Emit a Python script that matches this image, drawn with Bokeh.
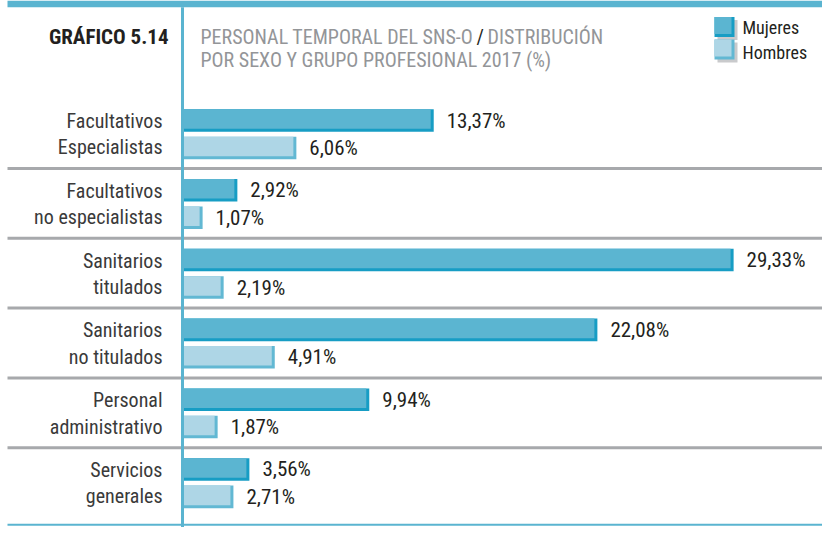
from bokeh.plotting import figure
from bokeh.models import Range1d, ColumnDataSource
from bokeh.core.properties import value
from bokeh.embed import file_html
from bokeh.resources import INLINE

categories = ["Facultativos\nEspecialistas", "Facultativos\nno especialistas",
              "Sanitarios\ntitulados", "Sanitarios\nno titulados",
              "Personal\nadministrativo", "Servicios\ngenerales"]
mujeres = [13.37, 2.92, 29.33, 22.08, 9.94, 3.56]
hombres = [6.06, 1.07, 2.19, 4.91, 1.87, 2.71]
series = ["Mujeres", "Hombres"]
chart_label = "GRÁFICO 5.14"
title_1 = ["PERSONAL TEMPORAL DEL SNS-O", "/", "DISTRIBUCIÓN"]
title_2 = "POR SEXO Y GRUPO PROFESIONAL 2017 (%)"

FONT = value("Roboto Condensed")
W, H = 822, 527
PX = 18.79   # pixels per percent
X0 = 182     # canvas x of 0 %
S = 0.98     # vertical compression

def cx(px):
    return (px - X0) / PX

def cy(py):
    return (py - 5) * S

CYAN = "#5ab4d0"
M_FILL, M_EDGE = "#5bb5d1", "#179dc4"
H_FILL, H_EDGE = "#aed6e6", "#62b8d3"
GRAY = "#a7a9ac"
DARK = "#231f20"
TGRAY = "#939598"

p = figure(width=W, height=H, x_range=Range1d(cx(0), cx(W)), y_range=Range1d(H, 0),
           output_backend="svg", toolbar_location=None, min_border=0,
           x_axis_type=None, y_axis_type=None)
p.grid.visible = False
p.outline_line_color = None
p.background_fill_color = "white"

n = len(categories)
gap = 71.2 * S
m_y = [cy(127.5) + gap * i for i in range(n)]
h_y = [y + 28 * S for y in m_y]
bh = 23 * S
edge = 3

src = ColumnDataSource(dict(
    cat=categories, m=mujeres, h=hombres, my=m_y, hy=h_y,
    m_in=[v - edge / PX for v in mujeres], h_in=[v - edge / PX for v in hombres],
    my_in=[y - edge / 2 for y in m_y], hy_in=[y - edge / 2 for y in h_y],
    m_lab=[f"{v:.2f}".replace(".", ",") + "%" for v in mujeres],
    h_lab=[f"{v:.2f}".replace(".", ",") + "%" for v in hombres],
    m_lx=[v + 13 / PX for v in mujeres], h_lx=[v + 13 / PX for v in hombres],
    cy=[y + 14 * S for y in m_y],
))

# bars (edge first, then fill inset)
p.hbar(y="my", left=0, right="m", height=bh, source=src, fill_color=M_EDGE, line_color=None)
p.hbar(y="my_in", left=0, right="m_in", height=bh - edge, source=src, fill_color=M_FILL, line_color=None)
p.hbar(y="hy", left=0, right="h", height=bh, source=src, fill_color=H_EDGE, line_color=None)
p.hbar(y="hy_in", left=0, right="h_in", height=bh - edge, source=src, fill_color=H_FILL, line_color=None)

# value labels
p.text(x="m_lx", y="my", text="m_lab", source=src, text_font=FONT, text_font_size="21px",
       text_color=DARK, text_align="left", text_baseline="middle")
p.text(x="h_lx", y="hy", text="h_lab", source=src, text_font=FONT, text_font_size="21px",
       text_color=DARK, text_align="left", text_baseline="middle")

# category labels
p.text(x=cx(162), y="cy", text="cat", source=src, text_font=FONT, text_font_size="20px",
       text_color="#3a3a3a", text_align="right", text_baseline="middle", text_line_height=1.1)

# separators
sep_y = [y + 49 * S for y in m_y[:-1]]
p.segment(x0=cx(7), x1=cx(W), y0=sep_y, y1=sep_y, line_color=GRAY, line_width=3)
# bottom line
p.segment(x0=cx(7), x1=cx(W), y0=[cy(540)], y1=[cy(540)], line_color=CYAN, line_width=2)
# top band
p.quad(left=cx(7), right=cx(W), top=cy(5), bottom=cy(12), fill_color=CYAN, line_color=None)
# vertical axis line
p.segment(x0=[0], x1=[0], y0=[cy(12)], y1=[H], line_color=CYAN, line_width=3)

# header
p.text(x=[cx(168)], y=[cy(42)], text=[chart_label], text_font=FONT, text_font_size="21px",
       text_font_style="bold", text_color=DARK, text_align="right", text_baseline="middle")
p.text(x=[cx(200), cx(476), cx(487)], y=[cy(42)] * 3, text=title_1, text_font=FONT,
       text_font_size="20px", text_color=[TGRAY, DARK, TGRAY],
       text_align="left", text_baseline="middle")
p.text(x=[cx(200)], y=[cy(66)], text=[title_2], text_font=FONT, text_font_size="20px",
       text_color=TGRAY, text_align="left", text_baseline="middle")

# legend
leg_y = [cy(32), cy(55)]
sq = 20
p.rect(x=[cx(727), cx(727)], y=[y + 3 for y in leg_y], width=sq / PX, height=sq,
       fill_color="#c9cacc", line_color=None)
p.rect(x=[cx(724), cx(724)], y=leg_y, width=sq / PX, height=sq,
       fill_color=[M_EDGE, H_EDGE], line_color=None)
p.rect(x=[cx(724 - 1.5), cx(724 - 1.5)], y=[y - 1.5 for y in leg_y], width=(sq - 3) / PX, height=sq - 3,
       fill_color=[M_FILL, H_FILL], line_color=None)
p.text(x=[cx(742), cx(742)], y=[cy(33), cy(58)], text=series, text_font=FONT, text_font_size="18px",
       text_color=DARK, text_align="left", text_baseline="middle")

open("out.html", "w").write(file_html(p, INLINE))
